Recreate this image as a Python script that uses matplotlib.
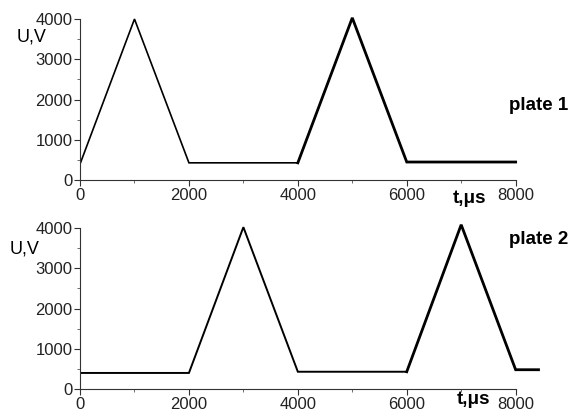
import matplotlib.pyplot as plt
from matplotlib.ticker import MultipleLocator

plt.rcParams['font.family'] = ['Liberation Sans', 'DejaVu Sans']

# === data ===
t_top = [0, 1000, 2000, 4000, 5000, 6000, 8000]
u_top = [400, 4000, 430, 430, 4030, 450, 450]
t_bot = [0, 2000, 3000, 4000, 6000, 7000, 8000, 8420]
u_bot = [400, 400, 4020, 430, 430, 4080, 480, 480]

xticks = [0, 2000, 4000, 6000, 8000]
yticks = [0, 1000, 2000, 3000, 4000]

fig = plt.figure(figsize=(5.7, 4.17), dpi=100)
ax1 = fig.add_axes([0.1404, 0.568, 0.812, 0.396])
ax2 = fig.add_axes([0.1404, 0.067, 0.812, 0.396])


def style(ax):
    ax.set_xlim(0, 8500)
    ax.set_ylim(0, 4100)
    ax.spines['top'].set_visible(False)
    ax.spines['right'].set_visible(False)
    ax.spines['bottom'].set_bounds(0, 8000)
    ax.spines['left'].set_bounds(0, 4000)
    for s in ('left', 'bottom'):
        ax.spines[s].set_linewidth(0.8)
        ax.spines[s].set_color('#333333')
    ax.set_xticks(xticks)
    ax.set_yticks(yticks)
    ax.xaxis.set_minor_locator(MultipleLocator(1000))
    ax.yaxis.set_minor_locator(MultipleLocator(500))
    ax.tick_params(which='major', direction='out', length=4, width=0.8,
                   color='#333333', labelsize=12, pad=1.5,
                   labelcolor='#222222')
    ax.tick_params(which='minor', direction='out', length=2.5, width=0.6,
                   color='#555555')


# top panel: first pulse thin, second pulse thick
ax1.plot(t_top[:4], u_top[:4], color='black', lw=1.2, solid_joinstyle='miter')
ax1.plot(t_top[3:], u_top[3:], color='black', lw=2.0, solid_joinstyle='miter')
style(ax1)

ax2.plot(t_bot[:5], u_bot[:5], color='black', lw=1.4, solid_joinstyle='miter')
ax2.plot(t_bot[4:], u_bot[4:], color='black', lw=2.0, solid_joinstyle='miter')
style(ax2)

fig.text(17 / 570, 1 - 37 / 417, 'U,V', fontsize=13, va='center', ha='left')
fig.text(10 / 570, 1 - 249 / 417, 'U,V', fontsize=13, va='center', ha='left')
fig.text(568 / 570, 1 - 105 / 417, 'plate 1', fontsize=13.5, fontweight='bold',
         va='center', ha='right')
fig.text(568 / 570, 1 - 240 / 417, 'plate 2', fontsize=13.5, fontweight='bold',
         va='center', ha='right')
fig.text(453 / 570, 1 - 199 / 417, 't,μs', fontsize=13.5, fontweight='bold',
         va='center', ha='left')
fig.text(457 / 570, 1 - 399 / 417, 't,μs', fontsize=13.5, fontweight='bold',
         va='center', ha='left')

fig.savefig('out.png', dpi=100, facecolor='white')
